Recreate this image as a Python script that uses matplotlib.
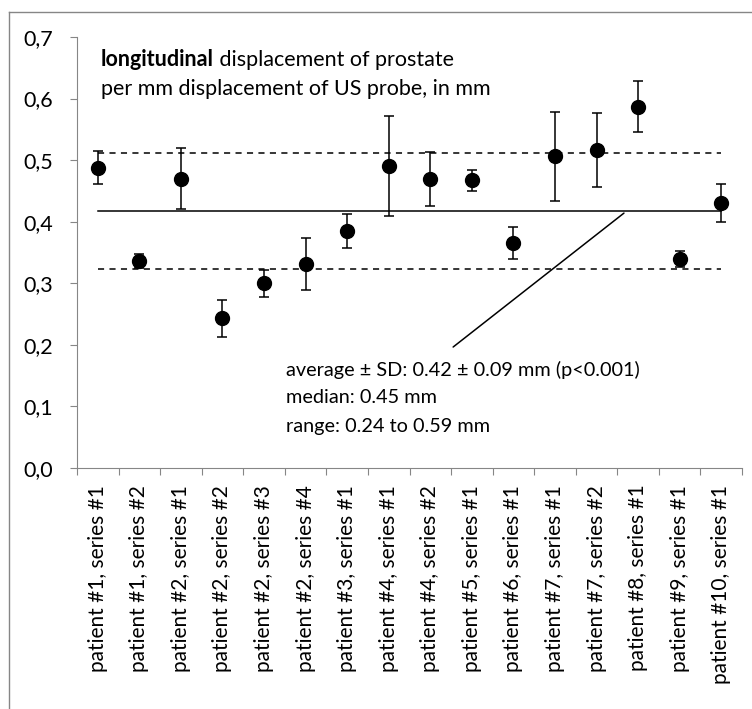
import matplotlib.pyplot as plt
from matplotlib.lines import Line2D
from matplotlib.ticker import FuncFormatter, MultipleLocator
import numpy as np

labels = ['patient #1, series #1', 'patient #1, series #2', 'patient #2, series #1',
          'patient #2, series #2', 'patient #2, series #3', 'patient #2, series #4',
          'patient #3, series #1', 'patient #4, series #1', 'patient #4, series #2',
          'patient #5, series #1', 'patient #6, series #1', 'patient #7, series #1',
          'patient #7, series #2', 'patient #8, series #1', 'patient #9, series #1',
          'patient #10, series #1']
means = [0.488, 0.336, 0.470, 0.243, 0.300, 0.331, 0.385, 0.490,
         0.469, 0.467, 0.365, 0.506, 0.516, 0.587, 0.339, 0.431]
sds = [0.027, 0.011, 0.050, 0.030, 0.022, 0.042, 0.028, 0.081,
       0.044, 0.017, 0.026, 0.073, 0.060, 0.042, 0.013, 0.031]
avg = 0.418
avg_sd = 0.094


def main():
    plt.rcParams['font.family'] = ['Lato', 'DejaVu Sans']
    fs = 15.5
    fig = plt.figure(figsize=(7.52, 7.09), dpi=100)
    ax = fig.add_axes([77/752, 1-468/709, 665/752, 431/709])
    x = np.arange(len(labels))

    # average and +/- SD lines
    ax.plot(x[[0, -1]], [avg, avg], color='black', lw=1.1)
    for v in (avg - avg_sd, avg + avg_sd):
        ax.plot(x[[0, -1]], [v, v], color='black', lw=1.1, ls=(0, (4, 3.5)))

    ax.errorbar(x, means, yerr=sds, fmt='o', color='black', ms=10,
                ecolor='black', elinewidth=1.1, capsize=3.3, capthick=1.1, zorder=3)

    ax.set_xlim(-0.5, len(labels) - 0.5)
    ax.set_ylim(0, 0.7)
    ax.yaxis.set_major_locator(MultipleLocator(0.1))
    ax.yaxis.set_major_formatter(FuncFormatter(lambda v, p: f'{v:.1f}'.replace('.', ',')))
    ax.tick_params(axis='y', length=5, color='#868686', pad=12, labelsize=fs)

    ax.set_xticks(np.arange(len(labels) + 1) - 0.5)
    ax.set_xticklabels([])
    ax.set_xticks(x, minor=True)
    ax.set_xticklabels(labels, minor=True, rotation=90, fontsize=fs - 0.5)
    ax.tick_params(axis='x', which='major', length=5, color='#868686')
    ax.tick_params(axis='x', which='minor', length=0, pad=12)

    for s in ('top', 'right'):
        ax.spines[s].set_visible(False)
    for s in ('left', 'bottom'):
        ax.spines[s].set_color('#868686')

    # title text in the plot
    t = ax.text(0.077, 0.663, 'longitudinal', fontweight='bold', fontsize=fs, va='center')
    ax.annotate(' displacement of prostate', xy=(1, 0), xycoords=t, va='bottom', fontsize=fs)
    ax.text(0.077, 0.6155, 'per mm displacement of US probe, in mm', fontsize=fs, va='center')

    # annotation
    afs = 14.3
    ax.annotate('', xy=(12.66, 0.414), xytext=(8.55, 0.1965),
                arrowprops=dict(arrowstyle='-', color='black', lw=1.1, shrinkA=0, shrinkB=0))
    ax.text(4.53, 0.159, 'average ± SD: 0.42 ± 0.09 mm (p<0.001)', fontsize=afs, va='center')
    ax.text(4.53, 0.114, 'median: 0.45 mm', fontsize=afs, va='center')
    ax.text(4.53, 0.0666, 'range: 0.24 to 0.59 mm', fontsize=afs, va='center')

    # chart border (left and top visible)
    fig.add_artist(Line2D([9/752, 9/752], [0, 1-12/709], transform=fig.transFigure,
                          color='#868686', lw=1))
    fig.add_artist(Line2D([9/752, 1], [1-12/709, 1-12/709], transform=fig.transFigure,
                          color='#868686', lw=1))

    fig.savefig('out.png', dpi=100)


if __name__ == "__main__":
    main()
